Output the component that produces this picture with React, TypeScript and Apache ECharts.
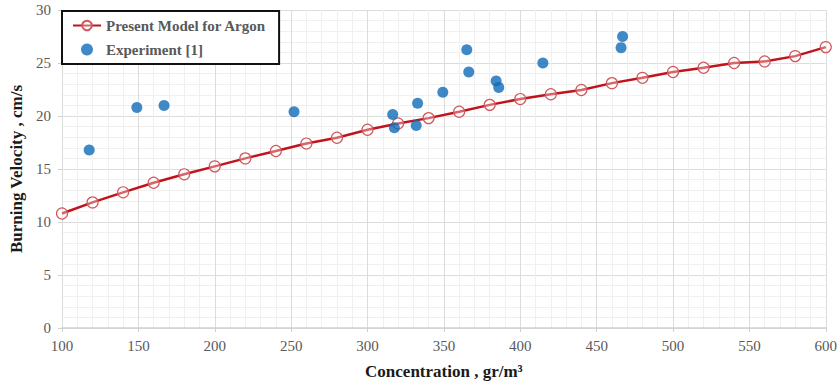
import React, { useEffect, useRef } from "react";
import * as echarts from "echarts";

const modelX = [100, 120, 140, 160, 180, 200, 220, 240, 260, 280, 300, 320, 340, 360, 380, 400, 420, 440, 460, 480, 500, 520, 540, 560, 580, 600];
const modelY = [10.8, 11.85, 12.8, 13.7, 14.5, 15.25, 16.0, 16.7, 17.4, 17.95, 18.7, 19.3, 19.8, 20.4, 21.05, 21.6, 22.05, 22.45, 23.1, 23.6, 24.15, 24.55, 25.0, 25.15, 25.65, 26.5];

const expX = [117.8, 149, 166.8, 251.9, 316.5, 317.6, 332.8, 331.9, 349.3, 365, 366.3, 384.2, 385.9, 414.8, 467, 466];
const expY = [16.8, 20.8, 21.0, 20.4, 20.15, 18.9, 21.2, 19.1, 22.25, 26.25, 24.15, 23.3, 22.7, 25.0, 27.5, 26.45];

const seriesNames = ["Present Model for Argon", "Experiment [1]"];
const xTitle = "Concentration , gr/m³";
const yTitle = "Burning Velocity , cm/s";

const FONT = "Liberation Serif";

export default function App() {
  const ref = useRef<HTMLDivElement>(null);
  useEffect(() => {
    if (!ref.current) return;
    const chart = echarts.init(ref.current, null, { renderer: "svg" });
    chart.setOption({
      animation: false,
      backgroundColor: "#ffffff",
      textStyle: { fontFamily: FONT },
      grid: { left: 61, right: 13, top: 10, bottom: 55, containLabel: false },
      xAxis: {
        type: "value",
        min: 100,
        max: 600,
        interval: 50,
        name: xTitle,
        nameLocation: "middle",
        nameGap: 35,
        nameTextStyle: { fontFamily: FONT, fontWeight: "bold", fontSize: 17, color: "#1a1a1a" },
        axisLine: { show: true, lineStyle: { color: "#d0d0d0", width: 1.5 } },
        axisTick: { show: true, length: 4, lineStyle: { color: "#d0d0d0" } },
        axisLabel: { fontFamily: FONT, fontSize: 15, color: "#595959", margin: 10 },
        splitLine: { show: true, lineStyle: { color: "#dcdcdc", width: 1 } },
        minorTick: { show: false, splitNumber: 5 },
        minorSplitLine: { show: true, lineStyle: { color: "#f0f0f0", width: 1 } },
      },
      yAxis: {
        type: "value",
        min: 0,
        max: 30,
        interval: 5,
        name: yTitle,
        nameLocation: "middle",
        nameGap: 37,
        nameRotate: 90,
        nameTextStyle: { fontFamily: FONT, fontWeight: "bold", fontSize: 17, color: "#1a1a1a" },
        axisLine: { show: false },
        axisTick: { show: true, length: 4, lineStyle: { color: "#d0d0d0" } },
        axisLabel: { fontFamily: FONT, fontSize: 15, color: "#595959", margin: 11 },
        splitLine: { show: true, lineStyle: { color: "#dcdcdc", width: 1 } },
        minorTick: { show: false, splitNumber: 5 },
        minorSplitLine: { show: true, lineStyle: { color: "#f0f0f0", width: 1 } },
      },
      legend: {
        left: 62,
        top: 11,
        orient: "vertical",
        backgroundColor: "#ffffff",
        borderColor: "#111111",
        borderWidth: 2,
        borderRadius: 0,
        padding: [7, 13, 7, 10],
        itemGap: 9,
        itemWidth: 28,
        itemHeight: 12,
        textStyle: { fontFamily: FONT, fontWeight: "bold", fontSize: 15, color: "#595959" },
        data: [
          { name: seriesNames[0] },
          { name: seriesNames[1] },
        ],
      },
      series: [
        {
          name: seriesNames[0],
          type: "line",
          data: modelX.map((x, i) => [x, modelY[i]]),
          smooth: false,
          symbol: "circle",
          symbolSize: 11,
          lineStyle: { color: "#C0141C", width: 2.5 },
          itemStyle: { color: "rgba(255,255,255,0.35)", borderColor: "#d0585c", borderWidth: 1.2 },
          z: 2,
        },
        {
          name: seriesNames[1],
          type: "scatter",
          data: expX.map((x, i) => [x, expY[i]]),
          symbol: "circle",
          symbolSize: 11,
          itemStyle: { color: "#0E6CB8" },
          z: 3,
        },
      ],
    });
    return () => chart.dispose();
  }, []);
  return <div ref={ref} style={{ width: 840, height: 385, position: "absolute", left: 0, top: 0 }} />;
}
